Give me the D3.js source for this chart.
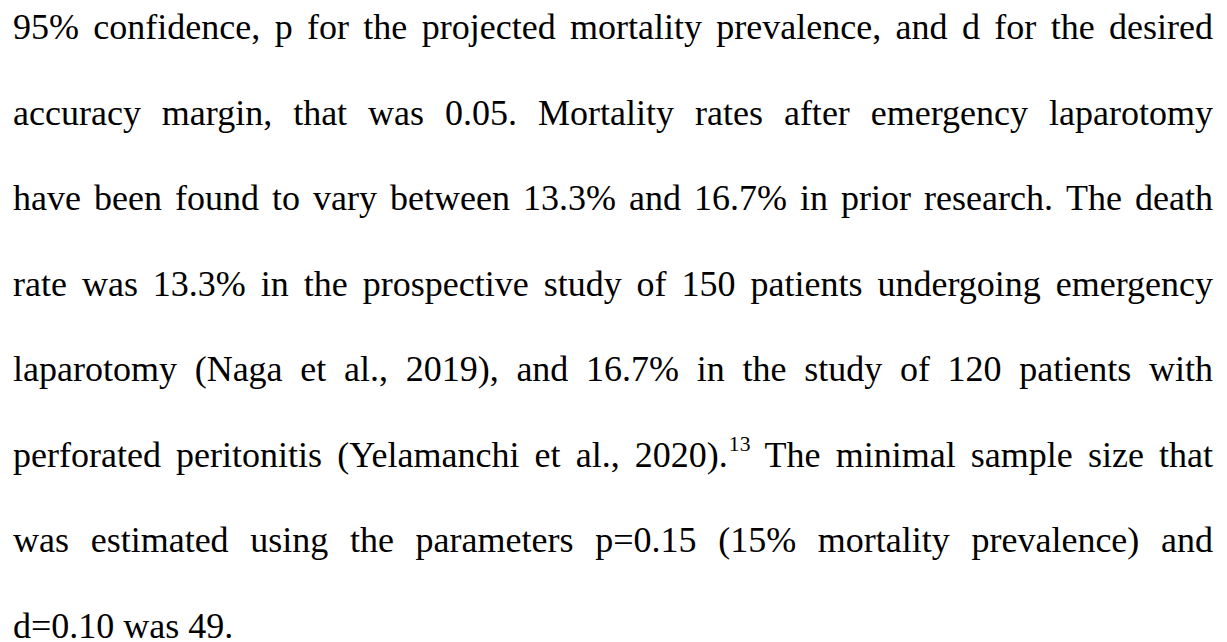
<!DOCTYPE html>
<html>
<head>
<meta charset="utf-8">
<script src="https://cdn.jsdelivr.net/npm/d3@7"></script>
<style>
  body { margin: 0; background: #fff; }
  svg { display: block; }
  svg text { font-family: "Liberation Serif", "Times New Roman", Tinos, "Nimbus Roman", "DejaVu Serif", serif; }
</style>
</head>
<body>
<div id="panel"></div>
<script>
// lineas del parrafo (justificado), "^" marca superindice
var lineas = [
	"95% confidence, p for the projected mortality prevalence, and d for the desired",
	"accuracy margin, that was 0.05. Mortality rates after emergency laparotomy",
	"have been found to vary between 13.3% and 16.7% in prior research. The death",
	"rate was 13.3% in the prospective study of 150 patients undergoing emergency",
	"laparotomy (Naga et al., 2019), and 16.7% in the study of 120 patients with",
	"perforated peritonitis (Yelamanchi et al., 2020).^13 The minimal sample size that",
	"was estimated using the parameters p=0.15 (15% mortality prevalence) and",
	"d=0.10 was 49."
];

var w = 1227;
var h = 642;
var fuente = 36;

var svg = d3.select('#panel')
	.append('svg')
	.attr("width", w)
	.attr("height", h);

var x = d3.scaleLinear().domain([0, 1]).range([13, 1213]);
var y = d3.scaleLinear().domain([0, lineas.length - 1]).range([39, 638]);

lineas.forEach(function (linea, i) {
	var g = svg.append("g").attr("transform", "translate(0," + y(i) + ")");
	var palabras = linea.split(" ");

	var nodos = g.selectAll("text")
		.data(palabras)
		.enter()
		.append("text")
		.attr("font-size", fuente)
		.attr("fill", "#000")
		.each(function (d) {
			var t = d3.select(this);
			var partes = d.split("^");
			t.append("tspan").text(partes[0]);
			if (partes[1]) {
				t.append("tspan")
					.attr("font-size", fuente * 0.6)
					.attr("dy", -fuente * 0.43)
					.attr("dx", 1)
					.text(partes[1]);
			}
		});

	var anchos = [];
	nodos.each(function () { anchos.push(this.getComputedTextLength()); });
	var total = d3.sum(anchos);
	var ultima = i === lineas.length - 1;
	var espacio = ultima ? fuente * 0.25 : (x(1) - x(0) - total) / (palabras.length - 1);

	var pos = x(0);
	nodos.attr("x", function (d, j) {
		var p = pos;
		pos += anchos[j] + espacio;
		return p;
	});
});
</script>
</body>
</html>
